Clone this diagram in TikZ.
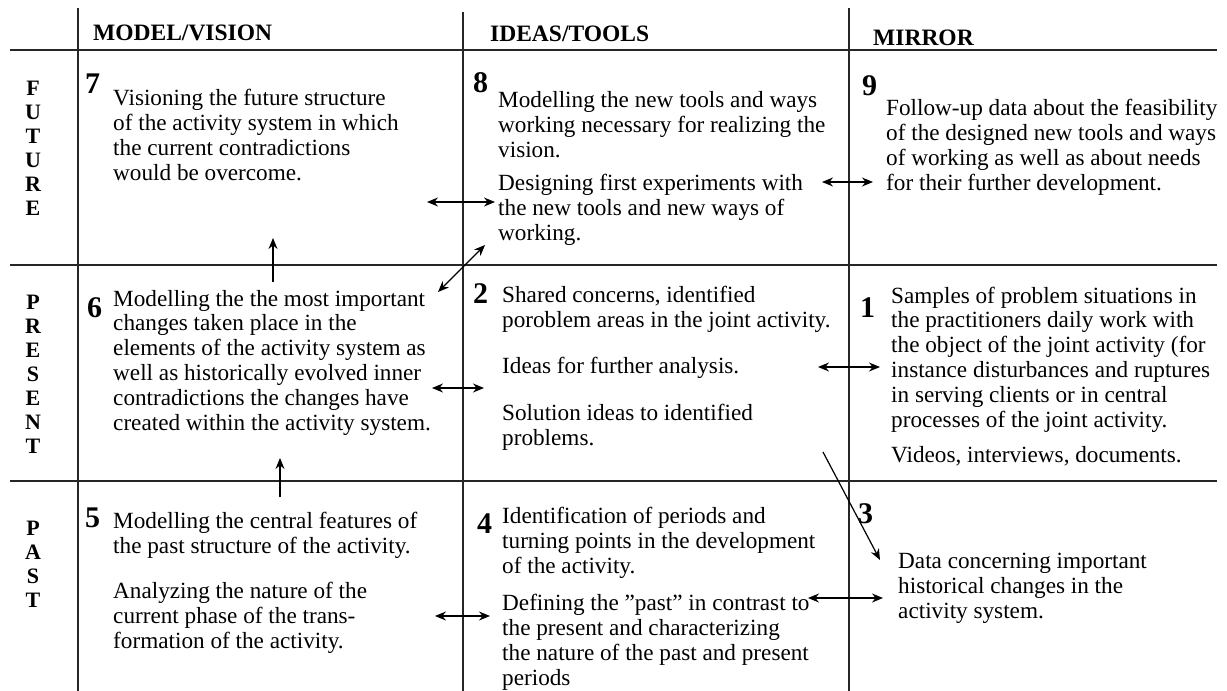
\documentclass[tikz,border=0pt]{standalone}
\usepackage{fontspec}
\setmainfont{Liberation Serif}
\usetikzlibrary{arrows.meta,positioning}

\begin{document}
\begin{tikzpicture}[x=1pt,y=-1pt]
% Define styles (multi-line nodes sit on the baseline of their last line)
\tikzstyle{grid} = [line width=1.6pt, black!85]
\tikzstyle{header} = [anchor=base west, inner sep=0pt, font=\fontsize{23.5}{24}\selectfont\bfseries]
\tikzstyle{side} = [anchor=base, inner sep=0pt, align=center, font=\fontsize{22}{24}\selectfont\bfseries]
\tikzstyle{num} = [anchor=base west, inner sep=0pt, font=\fontsize{30}{30}\selectfont\bfseries]
\tikzstyle{body} = [anchor=base west, inner sep=0pt, align=left, font=\fontsize{23.2}{24.8}\selectfont]
\tikzstyle{arrow} = [line width=1.2pt, -{Stealth[length=11pt,width=9pt]}]
\tikzstyle{twoway} = [line width=1.2pt, {Stealth[length=11pt,width=9pt]}-{Stealth[length=11pt,width=9pt]}]

\useasboundingbox (0,0) rectangle (1227,691);

% Draw grid
\draw[grid] (78,8) -- (78,691);
\draw[grid] (463,12) -- (463,691);
\draw[grid] (849,8) -- (849,691);
\draw[grid] (10,50) -- (1217,50);
\draw[grid] (10,265) -- (1217,265);
\draw[grid] (10,481) -- (1217,481);

% Draw headers
\node (hmodel) [header] at (93,40) {MODEL/VISION};
\node (hideas) [header] at (490,41) {IDEAS/TOOLS};
\node (hmirror) [header] at (873,45) {MIRROR};
\node (sfuture) [side] at (33,215) {F\\U\\T\\U\\R\\E};
\node (spresent) [side] at (33,453) {P\\R\\E\\S\\E\\N\\T};
\node (spast) [side] at (33,607) {P\\A\\S\\T};

% Draw numbers
\node (n7) [num] at (85,93) {7};
\node (n8) [num] at (473,92) {8};
\node (n9) [num] at (862,95) {9};
\node (n6) [num] at (87,317) {6};
\node (n2) [num] at (473,303) {2};
\node (n1) [num] at (860,317) {1};
\node (n5) [num] at (85,527) {5};
\node (n4) [num] at (477,533) {4};
\node (n3) [num] at (858,523) {3};

% Draw texts
\node (t7) [body] at (113,180) {Visioning the future structure\\of the activity system in which\\the current contradictions\\would be overcome.};
\node (t8a) [body] at (498,157) {Modelling the new tools and ways\\working necessary for realizing the\\vision.};
\node (t8b) [body] at (498,240) {Designing first experiments with\\the new tools and new ways of\\working.};
\node (t9) [body] at (886,190) {Follow-up data about the feasibility\\of the designed new tools and ways\\of working as well as about needs\\for their further development.};
\node (t6) [body] at (113,430) {Modelling the the most important\\changes taken place in the\\elements of the activity system as\\well as historically evolved inner\\contradictions the changes have\\created within the activity system.};
\node (t2a) [body] at (502,327) {Shared concerns, identified\\poroblem areas in the joint activity.};
\node (t2b) [body] at (502,373) {Ideas for further analysis.};
\node (t2c) [body] at (502,445) {Solution ideas to identified\\problems.};
\node (t1a) [body] at (891,427) {Samples of problem situations in\\the practitioners daily work with\\the object of the joint activity (for\\instance disturbances and ruptures\\in serving clients or in central\\processes of the joint activity.};
\node (t1b) [body] at (891,462) {Videos, interviews, documents.};
\node (t5a) [body] at (113,553) {Modelling the central features of\\the past structure of the activity.};
\node (t5b) [body] at (113,648) {Analyzing the nature of the\\current phase of the trans-\\formation of the activity.};
\node (t4a) [body] at (502,573) {Identification of periods and\\turning points in the development\\of the activity.};
\node (t4b) [body] at (502,685) {Defining the ''past'' in contrast to\\the present and characterizing\\the nature of the past and present\\periods};
\node (t3) [body] at (898,618) {Data concerning important\\historical changes in the\\activity system.};

% Arrow ends
\coordinate (visL) at (427,202);
\coordinate (toolsL) at (495,202);
\coordinate (visUp) at (273,238);
\coordinate (chgUp) at (273,282);
\coordinate (chgD) at (438,292);
\coordinate (toolsD) at (485,245);
\coordinate (chgR) at (432,388);
\coordinate (ideasL) at (484,388);
\coordinate (chgLow) at (280,458);
\coordinate (pastUp) at (280,497);
\coordinate (toolsR) at (822,182);
\coordinate (mirL) at (873,182);
\coordinate (ideasR) at (818,367);
\coordinate (sampL) at (880,367);
\coordinate (ideasD) at (823,452);
\coordinate (dataT) at (880,560);
\coordinate (pastR) at (435,616);
\coordinate (perL) at (490,616);
\coordinate (perR) at (808,598);
\coordinate (dataL) at (883,598);

% Draw arrows
\draw [twoway] (visL) -- (toolsL);
\draw [arrow] (chgUp) -- (visUp);
\draw [twoway] (chgD) -- (toolsD);
\draw [twoway] (chgR) -- (ideasL);
\draw [arrow] (pastUp) -- (chgLow);
\draw [twoway] (toolsR) -- (mirL);
\draw [twoway] (ideasR) -- (sampL);
\draw [arrow] (ideasD) -- (dataT);
\draw [twoway] (pastR) -- (perL);
\draw [twoway] (perR) -- (dataL);
\end{tikzpicture}
\end{document}
